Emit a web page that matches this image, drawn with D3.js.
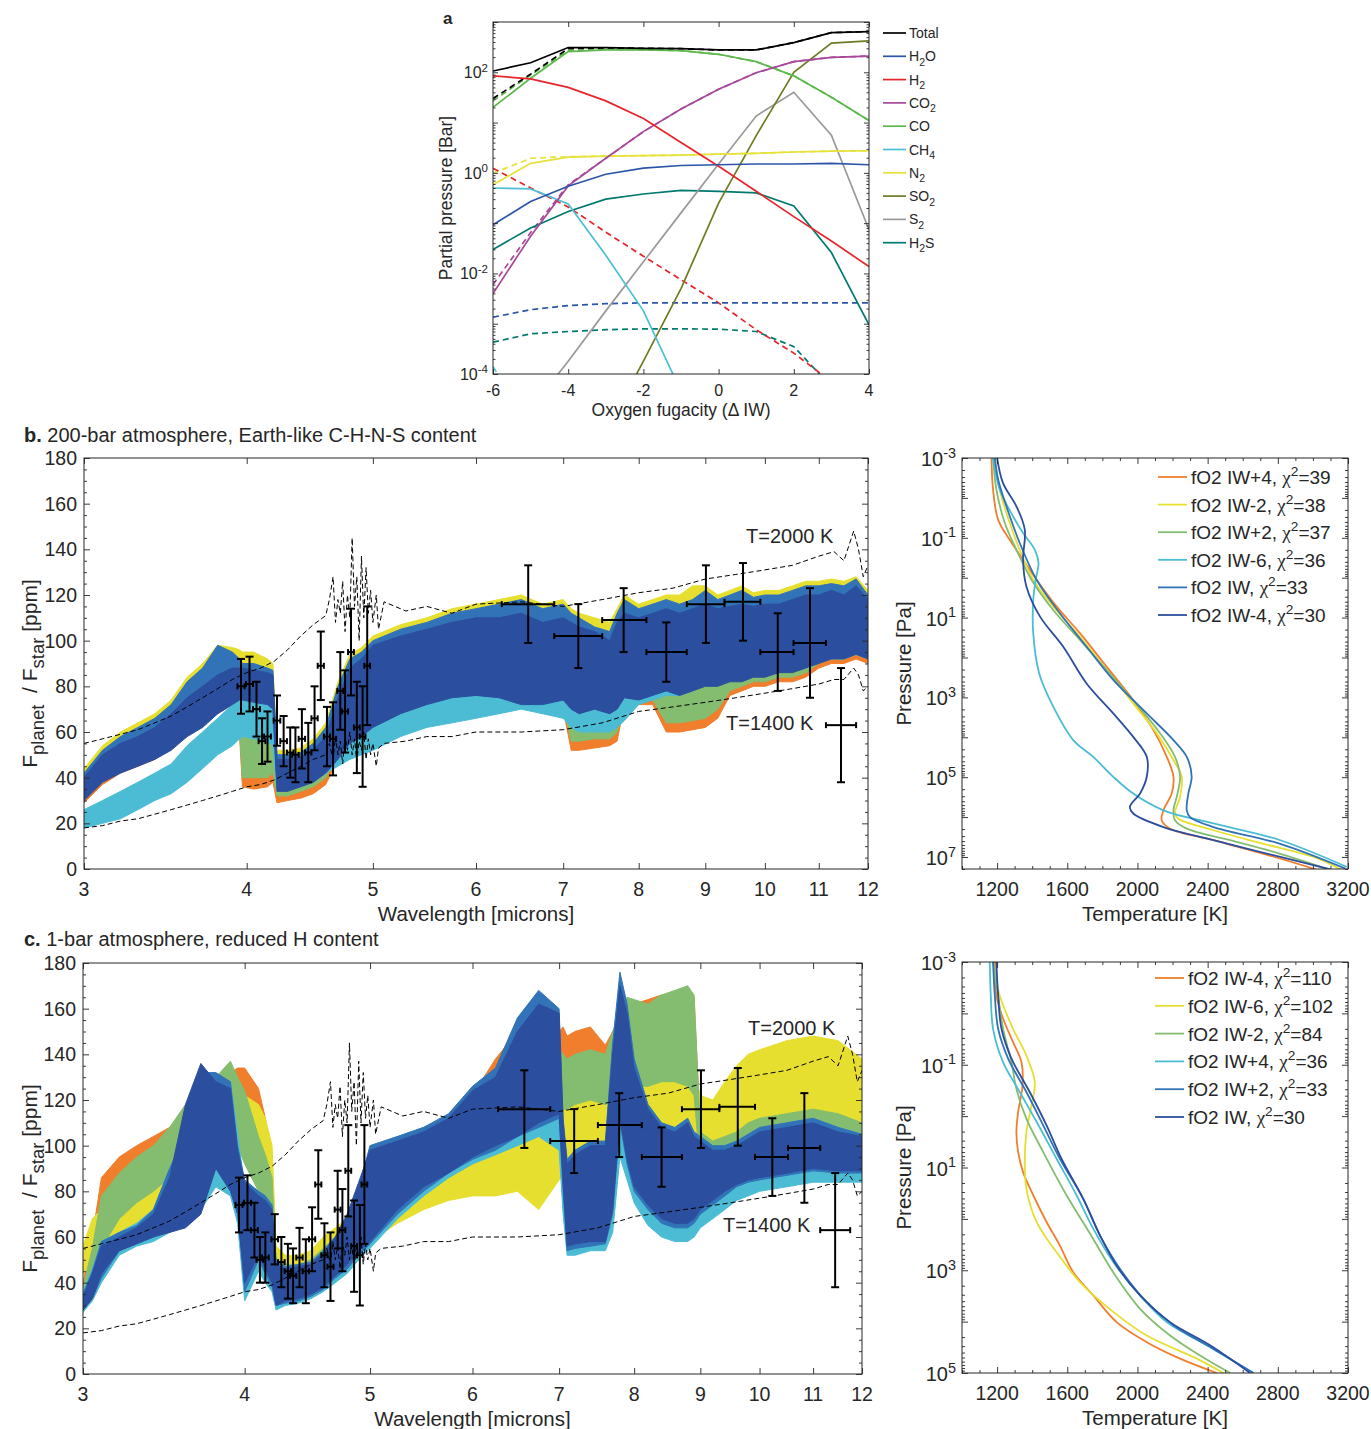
<!DOCTYPE html>
<html>
<head>
<meta charset="utf-8">
<script src="https://cdn.jsdelivr.net/npm/d3@7"></script>
<style>
  body { margin: 0; background: #fff; }
  text { font-family: 'Liberation Sans', Arial, Helvetica, sans-serif; fill: #262626; }
</style>
</head>
<body>
<div id="chart"></div>
<script>
// ---------------- panel a : partial pressures vs fO2 ----------------
const fugacity = [-6, -5, -4, -3, -2, -1, 0, 1, 2, 3, 4];
const pTotal     = [106, 155, 310, 310, 300, 295, 278, 278, 390, 615, 645];
const pTotalDash = [30, 92, 295, 305, 300, 295, 278, 278, 390, 615, 645];
const pH2O       = [0.093, 0.27, 0.54, 0.94, 1.24, 1.4, 1.45, 1.5, 1.5, 1.55, 1.45];
const pH2ODash   = [0.00135, 0.0019, 0.0023, 0.0025, 0.0026, 0.0026, 0.0026, 0.0026, 0.0026, 0.0026, 0.0026];
const pH2        = [85, 74, 50, 27, 12, 4.0, 1.35, 0.43, 0.135, 0.044, 0.0137];
const pH2Dash    = [1.23, 0.5, 0.21, 0.066, 0.022, 0.0075, 0.0026, 0.00076, 0.00026, 0.00007, 0.00002];
const pCO2       = [0.004, 0.055, 0.55, 1.95, 6.6, 18.6, 46, 98, 163, 198, 210];
const pCO2Dash   = [0.006, 0.065, 0.58, 1.95, 6.6, 18.6, 46, 98, 163, 198, 210];
const pCO        = [20, 76, 257, 278, 278, 270, 228, 163, 85, 32, 11];
const pCODash    = [27, 88, 270, 285, 280, 270, 228, 163, 85, 32, 11];
const pCH4       = [0.5, 0.48, 0.24, 0.023, 0.0018, 0.000045, 0.000001, 2.5e-8, 6e-10, 1.5e-11, 4e-13];
const pCH4Dash   = [0.00014, 0.00001, 7e-7, 5e-8, 4e-9, 3e-10, 2e-11, 1e-12, 1e-13, 1e-14, 1e-15];
const pN2        = [0.58, 1.55, 2.05, 2.15, 2.2, 2.25, 2.35, 2.45, 2.6, 2.7, 2.75];
const pN2Dash    = [0.98, 1.95, 2.1, 2.15, 2.2, 2.25, 2.35, 2.45, 2.6, 2.7, 2.75];
const pSO2       = [3e-10, 1e-8, 2.5e-7, 7e-6, 1.8e-4, 5e-3, 0.25, 5.5, 100, 380, 420];
const pS2        = [2e-6, 2e-5, 1.8e-4, 1.8e-3, 0.017, 0.16, 1.5, 13.5, 40, 5.6, 0.074];
const pH2S       = [0.03, 0.08, 0.17, 0.30, 0.38, 0.45, 0.43, 0.40, 0.22, 0.026, 0.00095];
const pH2SDash   = [0.00043, 0.00063, 0.0007, 0.00076, 0.00079, 0.00079, 0.00078, 0.0007, 0.00035, 0.000056, 0.00001];

const speciesNames  = ["Total", "H_{2}O", "H_{2}", "CO_{2}", "CO", "CH_{4}", "N_{2}", "SO_{2}", "S_{2}", "H_{2}S"];
const speciesColors = ["#000000", "#2c55a8", "#e8242b", "#a8489a", "#5cb84a", "#4cbfd6", "#e6e23a", "#6e7b23", "#999999", "#00796e"];

// ---------------- spectra (b and c) ----------------
const spectrumColors = ["#f07e2d", "#e6df2f", "#84bd70", "#4bbcd4", "#3273b8", "#2c4e9e"];

const wlB = [3.0,3.1,3.2,3.3,3.4,3.5,3.6,3.7,3.8,3.9,3.95,3.97,4.05,4.15,4.19,4.22,4.3,4.4,4.5,4.6,4.7,4.8,4.9,5.0,5.25,5.5,5.75,6.0,6.25,6.5,6.75,7.0,7.1,7.2,7.4,7.6,7.7,7.8,8.0,8.2,8.4,8.6,8.8,9.0,9.2,9.4,9.6,9.8,10.0,10.25,10.5,10.75,11.0,11.25,11.5,11.75,12.0];
// b: IW+4 (orange)
const bOrangeLo = [29,37,42,45,48,53,58,63,68,72,58,36,35,36,38,29,30,31,33,37,48,55,57,61,67,71,73,75,73,71,71,70,52,52,53,54,56,72,72,72,60,60,61,62,66,76,78,80,80,82,82,84,88,90,90,92,90];
const bOrangeHi = [40,50,56,60,64,70,78,85,94,92,90,55,55,55,55,46,46,48,52,58,76,88,92,97,102,105,108,110,112,114,110,112,96,96,96,96,104,114,110,112,114,112,114,118,114,116,118,115,116,116,118,120,120,121,120,122,116];
// b: IW-2 (yellow)
const bYellowLo = [32,40,44,47,50,55,60,65,70,74,76,76,75,74,72,37,36,38,41,46,52,58,60,64,70,74,76,78,76,74,74,76,72,70,72,72,74,76,76,78,80,78,80,82,82,84,84,86,86,88,88,90,92,94,94,96,94];
const bYellowHi = [44,54,60,64,68,74,84,90,98,97,96,95,95,92,90,52,52,53,57,64,82,94,97,102,107,110,114,116,118,120,116,118,114,112,110,108,114,120,116,118,120,120,124,124,120,122,124,121,122,122,124,126,126,127,126,128,122];
// b: IW+2 (green)
const bGreenLo = [31,39,43,46,49,54,59,64,69,73,60,40,40,40,42,32,32,34,36,40,50,56,58,62,68,72,74,76,74,72,72,72,56,56,57,57,60,74,74,74,64,64,65,66,70,78,80,82,82,84,84,86,90,92,92,94,92];
const bGreenHi = [41,51,57,61,65,71,80,86,95,93,92,70,70,68,66,49,49,50,54,60,78,90,93,98,103,106,110,112,114,116,112,114,100,100,100,100,108,116,112,114,116,114,116,120,116,118,120,117,118,118,120,122,122,123,122,125,118];
// b: IW-6 (cyan)
const bCyanLo = [18,20,22,26,30,33,38,44,50,54,57,58,57,56,54,35,35,36,38,42,45,48,50,52,58,62,64,66,68,70,68,66,62,60,60,60,62,65,72,74,76,76,78,82,82,84,84,86,86,88,88,90,92,92,92,94,92];
const bCyanHi = [26,30,34,38,42,46,54,60,66,72,74,75,75,74,72,50,50,50,52,55,56,58,60,64,72,78,80,82,85,88,85,84,80,78,77,76,78,84,94,98,100,100,100,102,104,106,108,108,110,110,112,114,116,116,116,118,114];
// b: IW (blue)
const bBlueLo = [32,40,44,47,50,55,60,65,70,74,76,76,75,74,72,36,35,37,40,45,52,58,60,64,70,74,76,78,76,74,74,76,72,70,72,70,72,76,76,78,80,78,80,82,82,84,84,86,86,88,88,90,92,94,94,96,94];
const bBlueHi = [42,52,58,62,66,72,82,88,98,95,92,90,90,88,87,50,50,51,55,62,80,92,95,100,105,108,112,114,116,118,114,116,112,110,106,104,112,118,114,116,118,116,118,122,118,120,122,119,120,120,122,124,124,125,124,127,120];
// b: IW-4 (dark blue)
const bDarkLo = [30,38,42,45,48,52,58,62,68,72,74,74,73,72,70,34,34,36,38,42,48,55,58,62,68,72,75,76,75,72,72,74,70,68,70,68,70,75,74,76,78,76,78,80,80,82,82,84,84,86,86,88,90,92,92,94,92];
const bDarkHi = [40,50,55,58,62,68,75,80,85,88,88,88,87,86,85,48,48,49,52,58,75,88,92,98,102,105,108,110,110,112,108,110,108,106,104,100,108,112,110,112,114,112,114,116,114,115,116,115,116,116,118,120,120,122,120,124,118];

const wlC = [3.0,3.05,3.1,3.2,3.3,3.4,3.5,3.6,3.7,3.8,3.9,3.95,4.0,4.1,4.15,4.2,4.23,4.3,4.4,4.5,4.6,4.7,4.8,4.9,5.0,5.25,5.5,5.75,6.0,6.25,6.5,6.75,7.0,7.05,7.1,7.2,7.4,7.6,7.7,7.8,7.9,8.0,8.2,8.4,8.6,8.8,8.9,9.0,9.2,9.4,9.6,9.8,10.0,10.5,11.0,11.5,12.0];
// c: IW-4 (orange)
const cOrangeLo = [30,42,62,78,84,88,92,98,104,108,110,108,105,95,82,62,42,40,40,42,45,48,52,56,62,72,80,88,95,105,115,118,115,112,110,110,112,108,112,118,122,124,125,128,128,125,120,92,88,90,92,94,95,96,96,96,95];
const cOrangeHi = [40,60,86,95,100,104,108,115,122,128,132,134,134,125,112,90,52,50,50,52,58,62,68,75,88,95,105,112,122,138,150,146,150,152,148,150,152,144,150,156,160,162,164,166,164,168,165,108,104,106,108,112,114,116,118,116,112];
// c: IW-6 (yellow)
const cYellowLo = [44,48,52,60,65,70,78,84,90,98,104,100,98,95,90,72,44,42,42,44,48,50,52,55,58,66,72,76,78,78,80,72,85,88,88,90,92,90,92,95,98,100,102,104,104,104,100,98,96,100,104,108,110,112,114,112,110];
const cYellowHi = [56,68,72,80,85,90,100,108,115,118,122,122,122,118,112,100,56,52,52,54,60,64,68,72,80,88,95,102,108,112,118,120,125,126,128,132,138,134,136,140,140,140,138,140,140,138,134,122,120,128,135,140,142,146,148,146,138];
// c: IW-2 (green)
const cGreenLo = [30,40,55,68,75,80,86,96,106,110,108,100,92,80,74,68,38,38,40,42,45,48,52,55,60,70,78,86,92,100,108,112,118,116,116,118,120,118,120,124,126,126,126,128,128,126,122,90,86,88,90,92,94,95,95,95,94];
const cGreenHi = [38,55,78,88,95,100,108,118,125,130,137,130,124,104,96,86,50,48,48,50,55,60,66,72,86,93,102,108,118,126,135,140,142,140,138,140,142,140,150,158,165,164,162,166,168,170,166,106,102,104,106,110,112,114,116,114,110];
// c: IW+4 (cyan)
const cCyanLo = [27,32,40,52,56,58,62,66,72,82,78,66,32,45,40,36,28,30,31,33,36,40,44,50,55,68,78,86,92,96,100,104,98,70,52,52,54,54,62,95,85,75,65,60,58,58,60,64,68,72,76,78,80,82,84,84,84];
const cCyanHi = [36,46,58,62,66,72,90,105,125,130,128,105,82,80,76,72,48,46,47,48,52,56,64,78,100,104,108,112,124,132,150,160,150,110,92,96,100,100,140,172,158,135,112,108,106,110,106,102,98,100,102,104,106,110,112,108,105];
// c: IW+2 (blue)
const cBlueLo = [28,33,42,54,57,60,64,70,80,95,82,72,36,50,44,38,30,31,32,34,37,42,46,52,57,70,80,88,94,98,104,108,112,80,54,55,56,57,70,110,92,80,72,66,64,64,66,70,74,78,82,84,85,87,89,88,88];
const cBlueHi = [35,45,58,62,65,72,90,105,132,132,128,100,85,80,78,74,50,47,48,49,54,60,68,82,100,104,108,114,126,134,156,168,160,112,94,98,102,102,145,176,162,138,118,110,108,112,106,104,100,100,102,105,108,110,112,108,105];
// c: IW (dark blue)
const cDarkLo = [28,33,44,54,57,60,62,64,70,90,80,70,40,52,46,40,30,32,33,35,38,43,48,54,58,72,82,88,95,100,104,110,114,84,56,57,58,58,72,112,94,82,74,68,66,66,68,72,76,80,83,85,86,88,90,89,89];
const cDarkHi = [34,44,56,60,64,70,86,118,136,128,125,98,84,78,76,72,48,46,47,48,53,60,70,84,98,102,106,112,124,130,150,162,158,110,92,96,100,100,140,170,158,134,116,108,106,110,104,102,98,98,100,103,106,108,110,106,104];

// blackbody reference curves (same in b and c)
const bbWl   = [3.0,3.1,3.2,3.3,3.4,3.5,3.6,3.7,3.8,3.9,4.0,4.1,4.2,4.3,4.4,4.5,
                4.6,4.63,4.66,4.68,4.7,4.72,4.74,4.76,4.78,4.8,4.82,4.84,4.86,4.88,4.9,4.92,4.94,4.96,4.98,5.0,5.03,5.05,5.1,
                5.3,5.5,5.75,6.0,6.5,7.0,7.5,8.0,8.5,9.0,9.5,10.0,10.5,11.0,11.3,11.5,11.7,11.8,11.9,12.0];
const bb2000 = [55,57,59,61,64,67,71,75,79,83,86,88,91,96,102,107,
                111,118,128,108,118,112,126,104,120,110,145,115,128,100,137,110,132,112,122,108,120,105,117,
                113,115,112,116,117,115,118,121,123,127,129,131,133,137,139,135,148,140,128,133];
const bb1400 = [18,19,21,22,24,26,28,30,32,34,36,37,39,42,45,48,
                50,55,48,58,50,56,46,58,52,60,50,57,47,56,52,60,48,57,50,55,45,53,55,
                56,58,58,60,60,61,64,69,71,73,75,77,79,81,83,83,88,85,78,80];

// observations
const smallWl  = [3.96,4.02,4.07,4.11,4.15,4.22,4.27,4.32,4.36,4.41,4.46,4.51,4.56,4.61,4.66,4.72,4.76,4.81,4.86,4.91,4.95];
const smallBin = 0.025;
const bObs = [80,81,70,56,58,65,56,51,50,57,51,66,89,58,57,78,69,95,62,58,89];
const bErr = [12,12,12,10,11,11,11,11,12,13,13,14,15,13,16,17,18,19,20,22,26];
const cObs = [74,75,63,50,51,59,49,45,43,51,45,59,83,52,47,72,63,89,56,52,83];
const cErr = [12,12,12,10,11,11,11,12,12,13,14,14,15,14,15,17,18,20,20,22,26];
const bigWl  = [6.58,7.19,7.79,8.40,9.01,9.62,10.23,10.83,11.44];
const bigLo  = [6.28,6.89,7.50,8.11,8.71,9.31,9.92,10.52,11.14];
const bigHi  = [6.89,7.50,8.11,8.71,9.31,9.92,10.52,11.14,11.75];
const bigVal = [116,102,109,95,116,117,95,99,63];
const bigErr = [17,14,14,13,17,17,17,24,25];

// ---------------- P-T profiles ----------------
const ptB_labels = ["fO2 IW+4, ~{χ}^{2}=39", "fO2 IW-2, ~{χ}^{2}=38", "fO2 IW+2, ~{χ}^{2}=37", "fO2 IW-6, ~{χ}^{2}=36", "fO2 IW, ~{χ}^{2}=33", "fO2 IW-4, ~{χ}^{2}=30"];
const ptB_T1 = [1168,1177,1206,1272,1348,1425,1539,1672,1824,1976,2091,2167,2205,2195,2148,2138,2186,2433,2719,3014];
const ptB_P1 = [-3,-2.21,-1.45,-0.95,-0.45,0.05,0.72,1.39,2.23,3.07,3.82,4.49,4.99,5.41,5.83,6.08,6.29,6.58,6.92,7.31];
const ptB_T2 = [1187,1215,1272,1329,1406,1520,1672,1824,1976,2110,2205,2252,2243,2214,2233,2433,2719,3004,3166];
const ptB_P2 = [-3,-2.21,-1.37,-0.70,0.05,0.72,1.48,2.31,3.15,3.90,4.57,4.99,5.49,5.91,6.04,6.33,6.67,7.0,7.33];
const ptB_T3 = [1177,1196,1244,1310,1396,1520,1672,1824,1976,2129,2214,2243,2224,2205,2214,2281,2528,2814,3090];
const ptB_P3 = [-3,-2.21,-1.37,-0.70,0.05,0.81,1.56,2.31,3.07,3.90,4.49,4.99,5.49,5.83,6.08,6.29,6.58,6.92,7.31];
const ptB_T4 = [1177,1215,1291,1348,1415,1436,1420,1406,1406,1440,1520,1634,1748,1862,1976,2148,2433,2814,3194];
const ptB_P4 = [-3,-2.21,-1.54,-1.12,-0.70,-0.37,0.05,0.56,1.39,2.40,3.23,4.07,4.49,4.99,5.41,5.83,6.16,6.58,7.25];
const ptB_T5 = [1187,1206,1253,1329,1425,1558,1710,1862,2053,2205,2281,2309,2290,2281,2300,2433,2814,3185];
const ptB_P5 = [-3,-2.46,-1.79,-0.87,0.05,0.89,1.73,2.56,3.40,4.07,4.49,4.99,5.41,5.83,6.0,6.25,6.67,7.29];
const ptB_T6 = [1200,1234,1310,1358,1348,1367,1444,1577,1710,1862,1976,2053,2053,2015,1957,1976,2148,2433,2814,3099];
const ptB_P6 = [-3,-2.37,-1.79,-1.20,-0.45,0.22,0.97,1.73,2.65,3.40,3.99,4.49,4.99,5.41,5.74,5.91,6.25,6.58,7.0,7.31];

const ptC_labels = ["fO2 IW-4, ~{χ}^{2}=110", "fO2 IW-6, ~{χ}^{2}=102", "fO2 IW-2, ~{χ}^{2}=84", "fO2 IW+4, ~{χ}^{2}=36", "fO2 IW+2, ~{χ}^{2}=33", "fO2 IW, ~{χ}^{2}=30"];
const ptC_T1 = [1187,1196,1234,1291,1339,1345,1320,1310,1320,1348,1406,1482,1558,1634,1748,1881,2053,2243,2452];
const ptC_P1 = [-3,-2.35,-1.90,-1.44,-1.05,-0.60,-0.08,0.31,0.70,1.09,1.54,2.06,2.52,3.04,3.49,4.01,4.40,4.72,5.0];
const ptC_T2 = [1177,1215,1291,1367,1415,1396,1367,1358,1367,1425,1539,1672,1862,2053,2338,2490];
const ptC_P2 = [-3,-2.35,-1.70,-1.18,-0.66,-0.21,0.31,0.83,1.41,2.06,2.65,3.23,3.81,4.27,4.72,5.0];
const ptC_T3 = [1177,1206,1234,1282,1310,1367,1463,1596,1748,1862,2015,2186,2357,2528];
const ptC_P3 = [-3,-2.35,-1.70,-1.05,-0.53,0.05,0.70,1.54,2.39,3.04,3.75,4.27,4.66,5.0];
const ptC_T4 = [1158,1164,1177,1234,1329,1425,1539,1653,1748,1862,2015,2167,2395,2661];
const ptC_P4 = [-3,-2.35,-1.70,-1.05,-0.47,0.11,0.83,1.54,2.19,2.84,3.49,4.01,4.46,5.0];
const ptC_T5 = [1177,1187,1206,1263,1367,1463,1558,1691,1786,1900,2034,2205,2433,2661];
const ptC_P5 = [-3,-2.35,-1.70,-1.12,-0.47,0.18,0.83,1.61,2.32,2.97,3.55,4.07,4.53,5.0];
const ptC_T6 = [1196,1206,1225,1282,1386,1482,1567,1691,1786,1881,2015,2186,2414,2642];
const ptC_P6 = [-3,-2.35,-1.70,-1.12,-0.47,0.18,0.83,1.61,2.32,2.91,3.49,4.01,4.46,5.0];

// ====================================================================
const INK = "#262626";
const svg = d3.select("#chart").append("svg").attr("width", 1371).attr("height", 1429);
const defs = svg.append("defs");
let clipCount = 0;

// text with _{sub}, ^{sup} and ~{serif} runs
function rich(t, s, fs, subScale) {
  const sub = subScale || 0.75;
  const re = /_\{([^}]*)\}|\^\{([^}]*)\}|~\{([^}]*)\}|([^_^~]+)/g;
  let m, shift = 0;
  while ((m = re.exec(s))) {
    const sp = t.append("tspan");
    let target = 0;
    if (m[1] !== undefined) { target = 0.32 * fs; sp.text(m[1]).style("font-size", sub * fs + "px"); }
    else if (m[2] !== undefined) { target = -0.42 * fs; sp.text(m[2]).style("font-size", 0.72 * fs + "px"); }
    else if (m[3] !== undefined) { sp.text(m[3]).style("font-family", "'Liberation Serif', 'DejaVu Serif', serif"); }
    else sp.text(m[4]);
    if (target - shift !== 0) sp.attr("dy", target - shift);
    shift = target;
  }
  return t;
}

function label(g, x, y, s, fs, anchor, rot, subScale) {
  const t = g.append("text").attr("x", x).attr("y", y).attr("text-anchor", anchor || "start")
    .style("font-size", fs + "px").style("white-space", "pre");
  if (rot) t.attr("transform", `rotate(${rot},${x},${y})`);
  return rich(t, s, fs, subScale);
}

function ticksOn(g, axisFn, scale, vals, size, tr) {
  g.append("g").attr("transform", tr)
    .call(axisFn(scale).tickValues(vals).tickSizeInner(-size).tickSizeOuter(0).tickFormat(""))
    .call(s => { s.select(".domain").remove(); s.selectAll("line").attr("stroke", INK).attr("stroke-width", 0.9); });
}

function frame(g, x, y, o) {
  const [x0, x1] = x.range(), yr = y.range();
  const yb = Math.max(...yr), yt = Math.min(...yr);
  ticksOn(g, d3.axisBottom, x, o.xMajor, o.tk, `translate(0,${yb})`);
  ticksOn(g, d3.axisTop, x, o.xMajor, o.tk, `translate(0,${yt})`);
  ticksOn(g, d3.axisLeft, y, o.yMajor, o.tk, `translate(${x0},0)`);
  ticksOn(g, d3.axisRight, y, o.yMajor, o.tk, `translate(${x1},0)`);
  if (o.xMinor) {
    ticksOn(g, d3.axisBottom, x, o.xMinor, o.tk / 2, `translate(0,${yb})`);
    ticksOn(g, d3.axisTop, x, o.xMinor, o.tk / 2, `translate(0,${yt})`);
  }
  if (o.yMinor) {
    ticksOn(g, d3.axisLeft, y, o.yMinor, o.tk / 2, `translate(${x0},0)`);
    ticksOn(g, d3.axisRight, y, o.yMinor, o.tk / 2, `translate(${x1},0)`);
  }
  g.append("rect").attr("x", x0).attr("y", yt).attr("width", x1 - x0).attr("height", yb - yt)
    .attr("fill", "none").attr("stroke", INK).attr("stroke-width", 1);
}

function clipFor(x, y) {
  const id = "clip" + (clipCount++);
  const [x0, x1] = x.range(), yr = y.range();
  defs.append("clipPath").attr("id", id).append("rect")
    .attr("x", x0).attr("y", Math.min(...yr)).attr("width", x1 - x0).attr("height", Math.abs(yr[0] - yr[1]));
  return `url(#${id})`;
}

function logMinor(e0, e1) {
  const out = [];
  for (let e = e0; e < e1; e++) for (let k = 2; k <= 9; k++) out.push(k * Math.pow(10, e));
  return out;
}
function decades(e0, e1) { return d3.range(e0, e1 + 1).map(e => Math.pow(10, e)); }

// ---------------- panel a ----------------
{
  const g = svg.append("g");
  const x = d3.scaleLinear().domain([-6, 4]).range([493, 869]);
  const y = d3.scaleLog().domain([1e-4, 1e3]).range([374, 22]);
  const plot = g.append("g").attr("clip-path", clipFor(x, y));
  const line = d3.line().x(d => x(d[0])).y(d => y(d[1]));
  const draw = (vals, color, dashed) => plot.append("path")
    .datum(fugacity.map((f, i) => [f, vals[i]]))
    .attr("d", line).attr("fill", "none").attr("stroke", color)
    .attr("stroke-width", 1.7).attr("stroke-dasharray", dashed ? "6,4" : null);

  const solid = [pTotal, pH2O, pH2, pCO2, pCO, pCH4, pN2, pSO2, pS2, pH2S];
  const dashed = [pTotalDash, pH2ODash, pH2Dash, pCO2Dash, pCODash, pCH4Dash, pN2Dash, null, null, pH2SDash];
  for (let i = solid.length - 1; i >= 0; i--) {
    if (dashed[i]) draw(dashed[i], speciesColors[i], true);
  }
  for (let i = solid.length - 1; i >= 0; i--) draw(solid[i], speciesColors[i], false);

  frame(g, x, y, { xMajor: [-6, -4, -2, 0, 2, 4], yMajor: decades(-4, 3), yMinor: logMinor(-4, 3), tk: 5 });

  [-6, -4, -2, 0, 2, 4].forEach(v => label(g, x(v), 396, String(v), 16, "middle"));
  [-4, -2, 0, 2].forEach(e => label(g, 488, y(Math.pow(10, e)) + 6, "10^{" + e + "}", 16, "end"));
  label(g, 681, 416, "Oxygen fugacity (Δ IW)", 17.5, "middle");
  label(g, 452, 198, "Partial pressure [Bar]", 17.5, "middle", -90);
  g.append("text").attr("x", 443).attr("y", 24).style("font-size", "17px").style("font-weight", "bold").text("a");

  speciesNames.forEach((n, i) => {
    const ly = 33 + i * 23.3;
    g.append("line").attr("x1", 883).attr("x2", 906).attr("y1", ly).attr("y2", ly)
      .attr("stroke", speciesColors[i]).attr("stroke-width", 1.7);
    label(g, 909, ly + 5, n, 14, "start");
  });
}

// ---------------- spectra ----------------
function drawSpectrum(box, wl, bands, obs, err, title, titleY) {
  const g = svg.append("g");
  const x = d3.scaleLog().domain([3, 12]).range([box.l, box.r]);
  const y = d3.scaleLinear().domain([0, 180]).range([box.b, box.t]);
  const plot = g.append("g").attr("clip-path", clipFor(x, y));

  const area = d3.area().x(d => x(d.w)).y0(d => y(d.lo)).y1(d => y(d.hi));
  bands.forEach((b, k) => {
    plot.append("path").datum(wl.map((w, i) => ({ w, lo: b[0][i], hi: b[1][i] })))
      .attr("d", area).attr("fill", spectrumColors[k]).attr("stroke", spectrumColors[k]).attr("stroke-width", 1);
  });

  const line = d3.line().x(d => x(d[0])).y(d => y(d[1]));
  [bb2000, bb1400].forEach(arr => plot.append("path")
    .datum(bbWl.map((w, i) => [w, arr[i]])).attr("d", line)
    .attr("fill", "none").attr("stroke", "#000").attr("stroke-width", 1).attr("stroke-dasharray", "5,3"));

  const eb = g.append("g").attr("stroke", "#000").attr("stroke-width", 2);
  const cap = 4;
  const bar = (cx, cy, yt, ybt, xl, xr) => {
    eb.append("line").attr("x1", cx).attr("x2", cx).attr("y1", yt).attr("y2", ybt);
    eb.append("line").attr("x1", cx - cap).attr("x2", cx + cap).attr("y1", yt).attr("y2", yt);
    eb.append("line").attr("x1", cx - cap).attr("x2", cx + cap).attr("y1", ybt).attr("y2", ybt);
    eb.append("line").attr("x1", xl).attr("x2", xr).attr("y1", cy).attr("y2", cy);
    eb.append("line").attr("x1", xl).attr("x2", xl).attr("y1", cy - 3).attr("y2", cy + 3);
    eb.append("line").attr("x1", xr).attr("x2", xr).attr("y1", cy - 3).attr("y2", cy + 3);
  };
  smallWl.forEach((w, i) => bar(x(w), y(obs[i]), y(obs[i] + err[i]), y(obs[i] - err[i]), x(w - smallBin), x(w + smallBin)));
  bigWl.forEach((w, i) => bar(x(w), y(bigVal[i]), y(bigVal[i] + bigErr[i]), y(bigVal[i] - bigErr[i]), x(bigLo[i]), x(bigHi[i])));

  const yTicks = d3.range(0, 181, 20);
  frame(g, x, y, { xMajor: d3.range(3, 13), yMajor: yTicks, yMinor: d3.range(0, 181, 5).filter(v => v % 20), tk: 6 });
  d3.range(3, 13).forEach(v => label(g, x(v), box.b + 27, String(v), 19.5, "middle"));
  yTicks.forEach(v => label(g, box.l - 7, y(v) + 7, String(v), 19.5, "end"));
  label(g, (box.l + box.r) / 2, box.b + 52, "Wavelength [microns]", 20.5, "middle");
  label(g, 37, (box.t + box.b) / 2 + 10, "F_{planet}  / F_{star} [ppm]", 21, "middle", -90, 0.88);
  label(g, box.tx2000, box.ty2000, "T=2000 K", 20, "start");
  label(g, box.tx1400, box.ty1400, "T=1400 K", 20, "start");
  const tt = g.append("text").attr("x", 24).attr("y", titleY).style("font-size", "20px");
  tt.append("tspan").style("font-weight", "bold").text(title[0]);
  tt.append("tspan").text(title[1]);
}

drawSpectrum({ l: 84, r: 868, t: 458, b: 869, tx2000: 746, ty2000: 543, tx1400: 726, ty1400: 730 }, wlB,
  [[bOrangeLo, bOrangeHi], [bYellowLo, bYellowHi], [bGreenLo, bGreenHi], [bCyanLo, bCyanHi], [bBlueLo, bBlueHi], [bDarkLo, bDarkHi]],
  bObs, bErr, ["b.", " 200-bar atmosphere, Earth-like C-H-N-S content"], 442);

drawSpectrum({ l: 83, r: 862, t: 963, b: 1374, tx2000: 748, ty2000: 1035, tx1400: 723, ty1400: 1232 }, wlC,
  [[cOrangeLo, cOrangeHi], [cYellowLo, cYellowHi], [cGreenLo, cGreenHi], [cCyanLo, cCyanHi], [cBlueLo, cBlueHi], [cDarkLo, cDarkHi]],
  cObs, cErr, ["c.", " 1-bar atmosphere, reduced H content"], 946);

// ---------------- P-T panels ----------------
function drawPT(box, yMaxExp, yTop, labelExps, profiles, names, leg) {
  const g = svg.append("g");
  const x = d3.scaleLinear().domain([1000, 3200]).range([box.l, box.r]);
  const y = d3.scaleLog().domain([1e-3, yTop]).range([box.t, box.b]);
  const plot = g.append("g").attr("clip-path", clipFor(x, y));
  const line = d3.line().x(d => x(d[0])).y(d => y(d[1])).curve(d3.curveCatmullRom.alpha(0.5));
  profiles.forEach((p, k) => {
    plot.append("path").datum(p[0].map((t, i) => [t, Math.pow(10, p[1][i])]))
      .attr("d", line).attr("fill", "none").attr("stroke", spectrumColors[k]).attr("stroke-width", 1.8);
  });
  frame(g, x, y, {
    xMajor: d3.range(1200, 3201, 400), xMinor: d3.range(1000, 3201, 100).filter(v => (v - 1200) % 400),
    yMajor: decades(-3, yMaxExp), yMinor: logMinor(-3, yMaxExp + 1).filter(v => v <= yTop), tk: 6
  });
  d3.range(1200, 3201, 400).forEach(v => label(g, x(v), box.b + 27, String(v), 19.5, "middle"));
  labelExps.forEach(e => label(g, box.l - 6, y(Math.pow(10, e)) + 8, "10^{" + e + "}", 20, "end"));
  label(g, (box.l + box.r) / 2, box.b + 52, "Temperature [K]", 20.5, "middle");
  label(g, 911, (box.t + box.b) / 2, "Pressure [Pa]", 20.5, "middle", -90);
  names.forEach((n, k) => {
    const ly = leg.y0 + k * leg.dy;
    g.append("line").attr("x1", leg.x).attr("x2", leg.x + 29).attr("y1", ly).attr("y2", ly)
      .attr("stroke", spectrumColors[k]).attr("stroke-width", 1.8);
    label(g, leg.x + 33, ly + 7, n, 19, "start");
  });
}

drawPT({ l: 962, r: 1348, t: 458, b: 869 }, 7, 2e7, [-3, -1, 1, 3, 5, 7],
  [[ptB_T1, ptB_P1], [ptB_T2, ptB_P2], [ptB_T3, ptB_P3], [ptB_T4, ptB_P4], [ptB_T5, ptB_P5], [ptB_T6, ptB_P6]],
  ptB_labels, { x: 1158, y0: 477, dy: 27.6 });

drawPT({ l: 962, r: 1348, t: 962, b: 1373 }, 5, 1e5, [-3, -1, 1, 3, 5],
  [[ptC_T1, ptC_P1], [ptC_T2, ptC_P2], [ptC_T3, ptC_P3], [ptC_T4, ptC_P4], [ptC_T5, ptC_P5], [ptC_T6, ptC_P6]],
  ptC_labels, { x: 1155, y0: 978, dy: 27.8 });
</script>
</body>
</html>
